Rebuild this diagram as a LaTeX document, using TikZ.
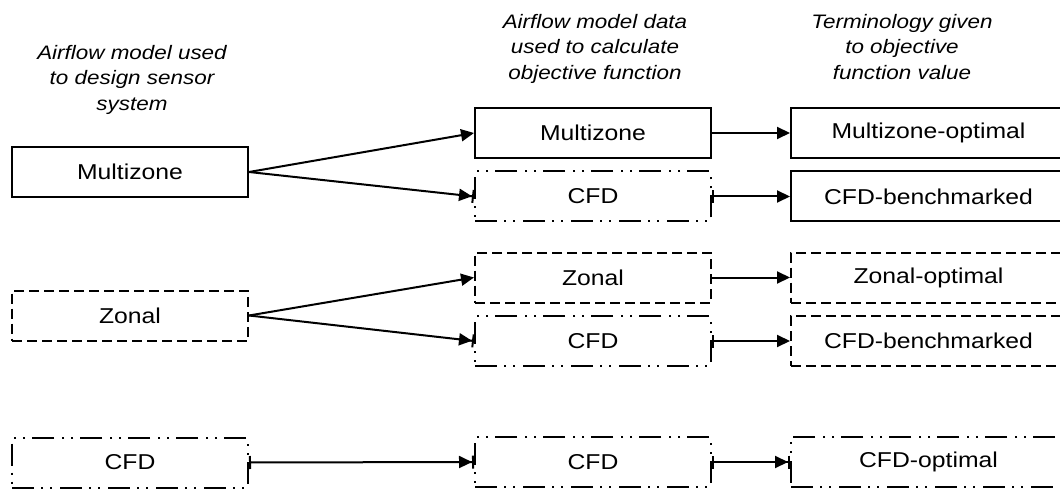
\documentclass[tikz,border=0pt]{standalone}
\usepackage{fontspec}
\setmainfont{Liberation Sans}[FakeStretch=1.15]
\usetikzlibrary{arrows.meta}
\begin{document}
\begin{tikzpicture}[x=1pt,y=-1pt,
  box/.style={draw, line width=2pt, minimum height=50pt, inner sep=0pt,
              font=\fontsize{21.5}{25}\selectfont},
  leftbox/.style={box, minimum width=236pt},
  midbox/.style={box, minimum width=236pt},
  rightbox/.style={box, minimum width=275pt},
  multiline/.style={solid},
  zonalline/.style={dash pattern=on 10pt off 5pt},
  cfdline/.style={dash pattern=on 22pt off 7pt on 2pt off 7pt on 2pt off 8pt},
  header/.style={align=center, inner sep=0pt, anchor=north,
                 font=\fontsize{19.5}{25.5}\selectfont\itshape},
  link/.style={line width=2pt},
  tip/.style={-{Triangle[length=13pt,width=12pt]}},
  tipbar/.style={-{Triangle[length=13pt,width=12pt,sep=0pt]Bar[width=13pt]}},
  bartip/.style={{Bar[width=13pt]}-{Triangle[length=13pt,width=12pt]}},
  bartipbar/.style={{Bar[width=13pt]}-{Triangle[length=13pt,width=12pt,sep=0pt]Bar[width=13pt]}},
]
\useasboundingbox (0,0) rectangle (1060,489);
\clip (0,0) rectangle (1060,489);

% column headings
\node[header] (h1) at (132,45) {Airflow model used\\to design sensor\\system};
\node[header] (h2) at (595,14) {Airflow model data\\used to calculate\\objective function};
\node[header] (h3) at (902,14) {Terminology given\\to objective\\function value};

% models used for the design
\node[leftbox, multiline] (lmz)  at (130,172)   {Multizone};
\node[leftbox, zonalline] (lzn)  at (130,315.5) {Zonal};
\node[leftbox, cfdline]   (lcfd) at (130,462.5) {CFD};

% models used for the objective function
\node[midbox, multiline] (mmz)   at (593,133)   {Multizone};
\node[midbox, cfdline]   (mcfd1) at (593,196.5) {CFD};
\node[midbox, zonalline] (mzn)   at (593,277.5) {Zonal};
\node[midbox, cfdline]   (mcfd2) at (593,341)   {CFD};
\node[midbox, cfdline]   (mcfd3) at (593,462)   {CFD};

% resulting terminology
\node[rightbox, multiline] (rmz)  at (928.5,133)   {Multizone-optimal};
\node[rightbox, multiline] (rb1)  at (928.5,196.5) {CFD-benchmarked};
\node[rightbox, zonalline] (rzn)  at (928.5,277.5) {Zonal-optimal};
\node[rightbox, zonalline] (rb2)  at (928.5,341)   {CFD-benchmarked};
\node[rightbox, cfdline]   (rcfd) at (928.5,462)   {CFD-optimal};

% connectors
\draw[link, tip]     (lmz.east) -- (mmz.west);
\draw[link, tipbar]  (lmz.east) -- (mcfd1.west);
\draw[link, tip]     (lzn.east) -- (mzn.west);
\draw[link, tipbar]  (lzn.east) -- (mcfd2.west);
\draw[link, bartipbar] (lcfd.east) -- (mcfd3.west);

\draw[link, tip]     (mmz.east) -- (rmz.west);
\draw[link, bartip]  (mcfd1.east) -- (rb1.west);
\draw[link, tip]     (mzn.east) -- (rzn.west);
\draw[link, bartip]  (mcfd2.east) -- (rb2.west);
\draw[link, bartipbar] (mcfd3.east) -- (rcfd.west);
\end{tikzpicture}
\end{document}
